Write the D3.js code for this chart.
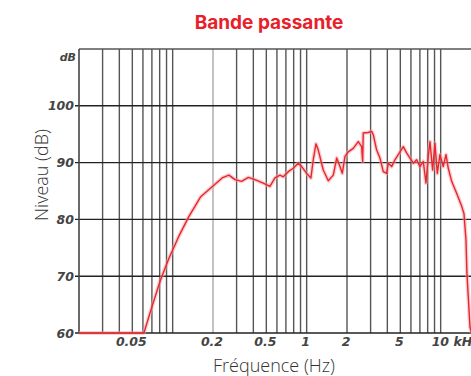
<!DOCTYPE html>
<html>
<head>
<meta charset="utf-8">
<script src="https://cdn.jsdelivr.net/npm/d3@7"></script>
<style>
  html, body { margin: 0; padding: 0; background: #fff; }
  svg { display: block; }
</style>
</head>
<body>
<script>
// ---- Data ----
const freqHz = [20, 61, 70, 81, 94, 111, 132, 162, 198, 234, 263, 292, 327, 367, 411, 474, 532, 580, 632, 669,
  729, 794, 865, 918, 1000, 1076, 1120, 1173, 1221, 1330, 1450, 1580, 1675, 1773, 1845, 1932, 2043, 2227, 2427, 2572,
  2618, 2644, 2882, 3055, 3142, 3328, 3524, 3732, 3954, 4063, 4307, 4560, 4828, 5260, 5570, 5900, 6250, 6620, 7010, 7420,
  7770, 8080, 8320, 8710, 9060, 9440, 9880, 10450, 10960, 11400, 12080, 13160, 14360, 14930, 15450, 15700, 16070, 16550, 16980];
const levelDb = [60, 60, 64.6, 69.3, 73.2, 77.0, 80.5, 84.0, 85.8, 87.3, 87.8, 87.0, 86.7, 87.4, 87.0, 86.4, 85.8, 87.3, 87.8, 87.5,
  88.4, 89.0, 89.9, 89.3, 88.1, 87.3, 90.5, 93.3, 92.2, 88.7, 86.8, 87.8, 90.8, 89.3, 88.1, 91.1, 91.9, 92.5, 93.7, 92.8,
  90.2, 95.2, 95.3, 95.5, 94.9, 92.2, 90.8, 88.4, 88.1, 89.9, 89.3, 90.5, 91.4, 92.8, 91.7, 90.8, 89.9, 90.5, 89.3, 90.2,
  86.4, 91.1, 93.7, 88.7, 93.4, 88.1, 91.4, 89.3, 91.4, 89.0, 86.7, 84.6, 82.3, 81.0, 76.4, 70.6, 66.4, 61.1, 60];

const gridFreqs = [30, 40, 50, 60, 70, 80, 90, 100, 200, 300, 400, 500, 600, 700, 800, 900, 1000,
  2000, 3000, 4000, 5000, 6000, 7000, 8000, 9000, 10000, 20000];
const lightGridFreqs = [200];
const yTicks = [60, 70, 80, 90, 100];
const xTickValues = [50, 200, 500, 1000, 2000, 5000, 10000];
const xTickLabels = ["0.05", "0.2", "0.5", "1", "2", "5", "10 kHz"];

const title = "Bande passante";
const xTitle = "Fréquence (Hz)";
const yTitle = "Niveau (dB)";
const yUnit = "dB";

// ---- Layout ----
const W = 471, H = 376;
const svg = d3.select("body").append("svg").attr("width", W).attr("height", H);

const x = d3.scaleLog().domain([20, 20000]).range([79, 481]);
const y = d3.scaleLinear().domain([60, 110]).range([333, 49]);

// Title
svg.append("text")
  .attr("x", 269).attr("y", 29)
  .attr("text-anchor", "middle")
  .attr("font-family", "Inter, 'Open Sans', sans-serif")
  .attr("font-weight", 700)
  .attr("font-size", 19)
  .attr("fill", "#e8202a")
  .text(title);

// Vertical grid
const g = svg.append("g");
g.selectAll("line.v").data(gridFreqs).enter().append("line")
  .attr("x1", d => x(d)).attr("x2", d => x(d))
  .attr("y1", y(110)).attr("y2", y(60))
  .attr("stroke", d => lightGridFreqs.includes(d) ? "#aaa" : "#555")
  .attr("stroke-width", 1.4);

// Horizontal grid
g.selectAll("line.h").data(yTicks).enter().append("line")
  .attr("x1", 75).attr("x2", W)
  .attr("y1", d => y(d)).attr("y2", d => y(d))
  .attr("stroke", "#222")
  .attr("stroke-width", 1.4);

// Top border
g.append("line").attr("x1", 79).attr("x2", W).attr("y1", y(110)).attr("y2", y(110))
  .attr("stroke", "#555").attr("stroke-width", 1.4);
// Left axis line
g.append("line").attr("x1", 79).attr("x2", 79).attr("y1", y(110)).attr("y2", y(60))
  .attr("stroke", "#444").attr("stroke-width", 1.6);

// Y tick labels
const tickFont = "'DejaVu Sans', Verdana, sans-serif";
svg.selectAll("text.yl").data(yTicks).enter().append("text")
  .attr("x", 74).attr("y", d => y(d)).attr("dy", "0.36em")
  .attr("text-anchor", "end")
  .attr("font-family", tickFont).attr("font-style", "italic").attr("font-weight", 700)
  .attr("font-size", 12.5).attr("fill", "#444")
  .text(d => d);
svg.append("text")
  .attr("x", 76).attr("y", 61)
  .attr("text-anchor", "end")
  .attr("font-family", tickFont).attr("font-style", "italic").attr("font-weight", 700)
  .attr("font-size", 11).attr("fill", "#444")
  .text(yUnit);

// X tick labels
svg.selectAll("text.xl").data(xTickValues).enter().append("text")
  .attr("x", (d, i) => i === xTickValues.length - 1 ? x(d) - 9 : x(d) - 1)
  .attr("y", 346)
  .attr("text-anchor", (d, i) => i === xTickValues.length - 1 ? "start" : "middle")
  .attr("font-family", tickFont).attr("font-style", "italic").attr("font-weight", 700)
  .attr("font-size", 12.5).attr("fill", "#444")
  .text((d, i) => xTickLabels[i]);

// Axis titles
svg.append("text")
  .attr("x", 274).attr("y", 372)
  .attr("text-anchor", "middle")
  .attr("font-family", "'Open Sans', Lato, sans-serif").attr("font-weight", 300)
  .attr("font-size", 18).attr("fill", "#333")
  .text(xTitle);
svg.append("text")
  .attr("transform", "translate(48,175) rotate(-90)")
  .attr("text-anchor", "middle")
  .attr("font-family", "'Open Sans', Lato, sans-serif").attr("font-weight", 300)
  .attr("font-size", 18).attr("fill", "#333")
  .text(yTitle);

// Curve
const pts = freqHz.map((f, i) => [f, levelDb[i]]);
const line = d3.line().x(d => x(d[0])).y(d => y(d[1]));
svg.append("path").datum(pts).attr("d", line)
  .attr("fill", "none").attr("stroke", "#f3a0a4").attr("stroke-opacity", 0.5)
  .attr("stroke-width", 4).attr("stroke-linejoin", "round");
svg.append("path").datum(pts).attr("d", line)
  .attr("fill", "none").attr("stroke", "#e8262e")
  .attr("stroke-width", 1.4).attr("stroke-linejoin", "round");
</script>
</body>
</html>
